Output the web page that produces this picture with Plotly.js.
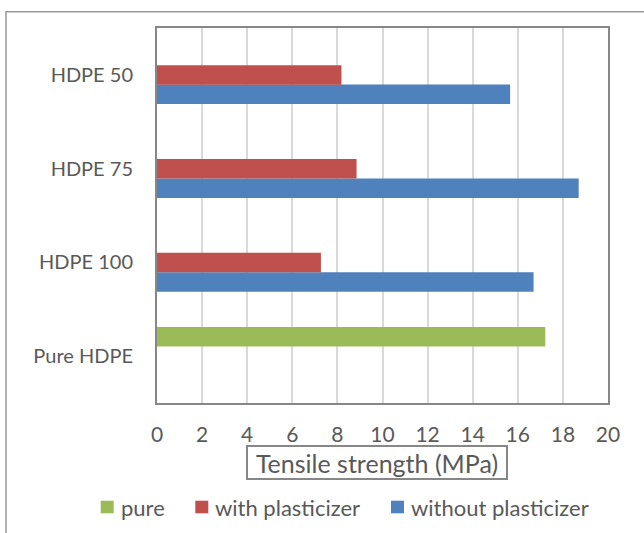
<!DOCTYPE html>
<html>
<head>
<meta charset="utf-8">
<script src="https://cdn.plot.ly/plotly-3.0.1.min.js"></script>
<style>html,body{margin:0;padding:0;background:#fff;}#chart{width:644px;height:533px;}</style>
</head>
<body>
<div id="chart"></div>
<script>
const categories = ["Pure HDPE", "HDPE 100", "HDPE 75", "HDPE 50"];
const pureCategories = ["Pure HDPE"];
const pureValues = [17.22];
const withPlasticizer = [null, 7.27, 8.85, 8.18];
const withoutPlasticizer = [null, 16.70, 18.70, 15.66];
const xTicks = [0, 2, 4, 6, 8, 10, 12, 14, 16, 18, 20];
const axisTitle = "Tensile strength (MPa)";
const seriesNames = ["pure", "with plasticizer", "without plasticizer"];
const seriesColors = ["#9BBB59", "#C0504D", "#4F81BD"];

const FONT = "Lato, 'Open Sans', sans-serif";
const TXT = "#595959";

const traces = [
  {type: "bar", orientation: "h", name: seriesNames[2], y: categories, x: withoutPlasticizer,
   marker: {color: seriesColors[2]}, hoverinfo: "x"},
  {type: "bar", orientation: "h", name: seriesNames[1], y: categories, x: withPlasticizer,
   marker: {color: seriesColors[1]}, hoverinfo: "x"},
  {type: "bar", orientation: "h", name: seriesNames[0], y: pureCategories, x: pureValues,
   marker: {color: seriesColors[0]}, hoverinfo: "x"}
];

const W = 644, H = 533, L = 157, R = 36, T = 28, B = 130;
const pw = W - L - R, ph = H - T - B;
function px(x){ return (x - L) / pw; }
function py(y){ return (H - B - y) / ph; }

// legend drawn in pixel layout positions
const legendSymbolX = [100.7, 195.3, 391];
const legendY = 507;
const annotations = [{xref: "paper", yref: "paper", x: px(376.7), y: py(463), xanchor: "center", yanchor: "middle",
                 text: axisTitle, showarrow: false, font: {size: 25, color: TXT},
                 width: 256, height: 29, align: "center",
                 bordercolor: "#878787", borderwidth: 2, borderpad: 1, bgcolor: "#fff"}];
const shapes = [{type: "rect", xref: "paper", yref: "paper", x0: px(6), x1: px(660), y0: py(11.7), y1: py(560),
            line: {color: "#999999", width: 1.5}, fillcolor: "rgba(0,0,0,0)", layer: "below"}];
seriesNames.forEach((name, i) => {
  const sx = legendSymbolX[i];
  shapes.push({type: "rect", xref: "paper", yref: "paper", x0: px(sx), x1: px(sx + 13),
               y0: py(legendY - 6.3), y1: py(legendY + 6.3), line: {width: 0}, fillcolor: seriesColors[i]});
  annotations.push({xref: "paper", yref: "paper", x: px(sx + 18), y: py(legendY), xanchor: "left", yanchor: "middle",
                    text: name, showarrow: false, font: {size: 22, color: TXT}});
});

const layout = {
  width: W, height: H,
  margin: {l: L, r: R, t: T, b: B, pad: 0, autoexpand: false},
  paper_bgcolor: "#fff", plot_bgcolor: "#fff",
  font: {family: FONT, color: TXT, size: 20},
  barmode: "group", bargap: 0.376, bargroupgap: 0,
  showlegend: false,
  xaxis: {range: [0, 20], tickvals: xTicks, ticktext: xTicks.map(String),
          showgrid: true, gridcolor: "#d9d9d9", gridwidth: 2,
          showline: true, mirror: true, linecolor: "#878787", linewidth: 2,
          zeroline: false, ticks: "", ticklabelstandoff: 12, fixedrange: true,
          tickfont: {size: 21}},
  yaxis: {categoryorder: "array", categoryarray: categories, type: "category",
          showgrid: false, zeroline: false, showline: true, mirror: true,
          linecolor: "#878787", linewidth: 2, ticks: "", ticklabelstandoff: 18, fixedrange: true},
  annotations: annotations,
  shapes: shapes
};

Plotly.newPlot("chart", traces, layout, {displayModeBar: false, staticPlot: true});
</script>
</body>
</html>
